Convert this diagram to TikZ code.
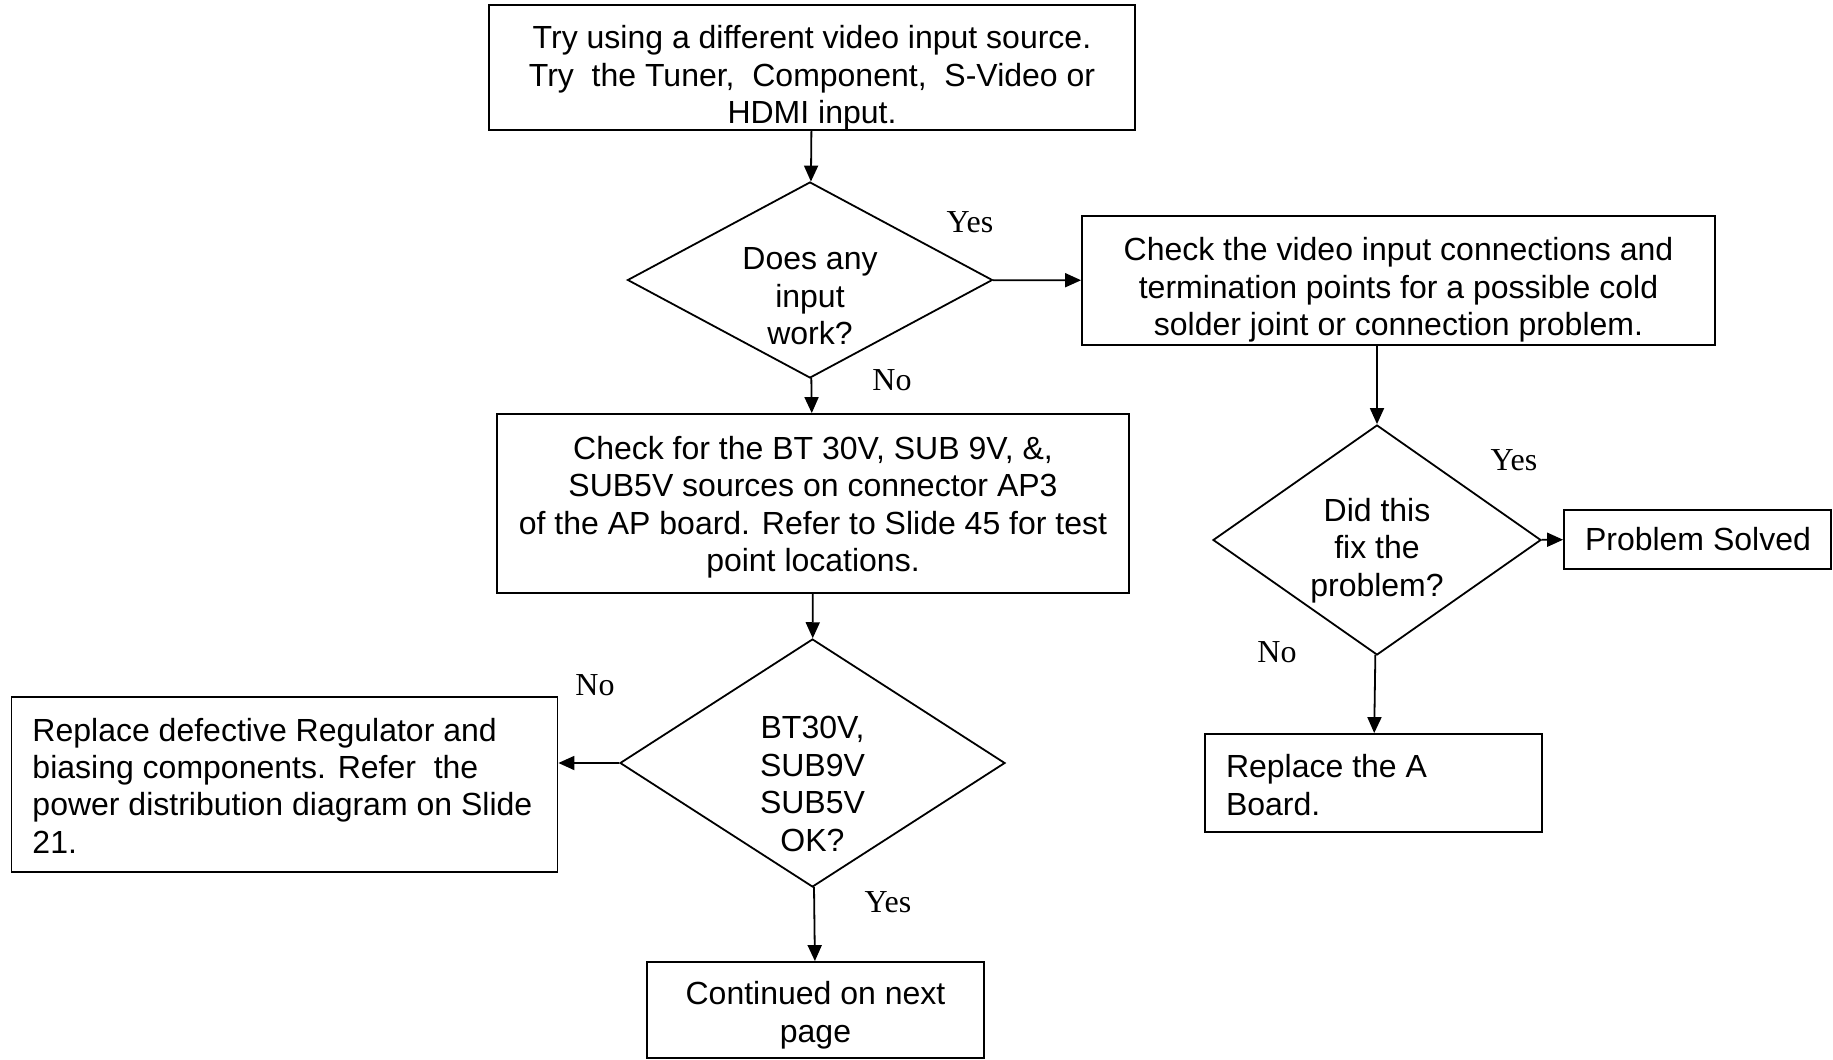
\documentclass[tikz,border=0pt]{standalone}
\usepackage{fontspec}
\setmainfont{Liberation Serif}
\setsansfont{Liberation Sans}
\usetikzlibrary{shapes.geometric,arrows.meta}
\begin{document}
\begin{tikzpicture}[x=0.5pt,y=-0.5pt,line width=0.9pt,>={Triangle[length=8pt,width=7pt]},every node/.style={font=\fontsize{16}{18.7}\selectfont\sffamily,align=center},caja/.style={draw,inner sep=0pt},rombo/.style={draw,diamond,inner sep=0pt},izq/.style={anchor=west,align=left,inner sep=0pt,xshift=10.5pt},nota/.style={font=\fontsize{16}{19}\selectfont\rmfamily}]
\useasboundingbox (0,0) rectangle (1833,1060);
\node[caja,minimum width=323pt,minimum height=62.5pt,label={[yshift=-5.3pt]center:{Try using a different video input source.\\Try\ \ the Tuner,\ \ Component,\ \ S-Video or\\HDMI input.}}] (t) at (812,67.5) {};
\node[rombo,minimum width=182.5pt,minimum height=98pt,label={[yshift=-8.2pt]center:{Does any\\input\\work?}}] (q) at (810,280) {};
\node[caja,minimum width=316.5pt,minimum height=64.5pt,label={[yshift=-4.7pt]center:{Check the video input connections and\\termination points for a possible cold\\solder joint or connection problem.}}] (c) at (1398.5,280.5) {};
\node[caja,minimum width=316pt,minimum height=89.5pt,label={[yshift=-1.8pt]center:{Check for the BT 30V, SUB 9V, \&,\\SUB5V sources on connector AP3\\of the AP board. Refer to Slide 45 for test\\point locations.}}] (b) at (813,503.5) {};
\node[rombo,minimum width=192.5pt,minimum height=124pt,label={[yshift=-10.5pt]center:{BT30V,\\SUB9V\\SUB5V\\OK?}}] (v) at (812.5,763) {};
\node[caja,minimum width=273pt,minimum height=87.5pt,label={[izq,yshift=-0.5pt]west:{Replace defective Regulator and\\biasing components. Refer\ \ the\\power distribution diagram on Slide\\21.}}] (r) at (284.5,784.5) {};
\node[caja,minimum width=168.5pt,minimum height=48pt,label={[yshift=-2.6pt]center:{Continued on next\\page}}] (n) at (815.5,1010) {};
\node[rombo,minimum width=164pt,minimum height=115pt,label={[yshift=-5.3pt]center:{Did this\\fix the\\problem?}}] (f) at (1377,540) {};
\node[caja,minimum width=133.5pt,minimum height=29.5pt,label={[izq]west:{Problem Solved}}] (p) at (1697.5,539.5) {};
\node[caja,minimum width=168.5pt,minimum height=49pt,label={[izq,yshift=-1pt]west:{Replace the A\\Board.}}] (a) at (1373.5,783) {};
\node[nota] (y1) at (970,222) {Yes};
\node[nota] (n1) at (892,380) {No};
\node[nota] (n2) at (595,685) {No};
\node[nota] (y2) at (888,902) {Yes};
\node[nota] (y3) at (1514,460) {Yes};
\node[nota] (n3) at (1277,652) {No};
\draw[->] (t)--(q);\draw[->] (q)--(c);\draw[->] (q)--(b);\draw[->] (b)--(v);\draw[->] (v)--(v -| r.east);\draw[->] (v)--(n);
\draw[->] (f.north |- c.south)--(f);\draw[->] (f)--(p);\draw[->] (f)--(a);
\end{tikzpicture}
\end{document}
